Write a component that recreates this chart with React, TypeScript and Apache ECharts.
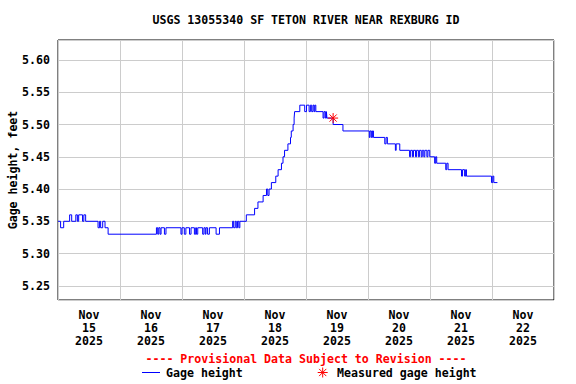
import React, { useEffect, useRef } from "react";
import * as echarts from "echarts";

// Hours since Nov 15 2025 00:00 at which the gage height changes (step data)
const stepHours = [
  0, 1.0, 2.2, 4.5, 5.3, 6.9, 7.5, 8.0, 9.5, 10.0, 10.7, 15.5, 16.1, 16.5, 17.3, 18.2, 19.4,
  38.1, 38.6, 39.0, 39.5, 39.9, 41.2, 41.8, 47.6, 48.0, 48.9, 49.5, 50.9, 51.5, 52.8, 53.3,
  53.6, 54.1, 56.0, 56.5, 57.0, 57.3, 57.9, 58.6, 61.2, 62.5, 67.6, 68.0, 68.6, 69.0, 69.5,
  70.0, 70.4, 72.9, 76.1, 77.4, 79.4, 80.7, 81.2, 81.7, 82.6, 84.3, 85.2, 86.5, 87.1, 87.7,
  89.0, 90.0, 90.3, 91.0, 91.4, 91.6, 93.6, 95.5, 96.2, 97.2, 97.7, 98.2, 98.7, 99.1, 99.4,
  99.8, 102.6, 103.0, 103.5, 103.9, 104.1, 106.5, 110.3, 120.5, 120.8, 121.3, 121.7, 122.1,
  126.5, 127.0, 127.5, 130.6, 130.9, 132.3, 136.1, 136.5, 137.2, 137.6, 138.4, 138.8, 139.5,
  139.9, 140.6, 141.0, 141.6, 142.0, 142.8, 143.2, 143.9, 145.8, 146.2, 146.6, 150.1, 150.5,
  151.0, 156.2, 156.6, 157.4, 157.8, 158.1, 167.8, 168.3, 168.7, 170.1,
];
const stepValues = [
  5.35, 5.34, 5.35, 5.36, 5.35, 5.36, 5.35, 5.36, 5.35, 5.36, 5.35, 5.34, 5.35, 5.34, 5.35, 5.34, 5.33,
  5.34, 5.33, 5.34, 5.33, 5.34, 5.33, 5.34, 5.33, 5.34, 5.33, 5.34, 5.33, 5.34, 5.33, 5.34,
  5.33, 5.34, 5.33, 5.34, 5.33, 5.34, 5.33, 5.34, 5.33, 5.34, 5.35, 5.34, 5.35, 5.34, 5.35,
  5.34, 5.35, 5.36, 5.37, 5.38, 5.39, 5.40, 5.39, 5.40, 5.41, 5.42, 5.43, 5.44, 5.45, 5.46,
  5.47, 5.48, 5.49, 5.50, 5.51, 5.52, 5.53, 5.52, 5.53, 5.52, 5.53, 5.52, 5.53, 5.52, 5.53,
  5.52, 5.51, 5.52, 5.51, 5.52, 5.51, 5.50, 5.49, 5.48, 5.49, 5.48, 5.49, 5.48,
  5.47, 5.48, 5.47, 5.46, 5.47, 5.46, 5.45, 5.46, 5.45, 5.46, 5.45, 5.46, 5.45,
  5.46, 5.45, 5.46, 5.45, 5.46, 5.45, 5.46, 5.45, 5.44, 5.45, 5.44, 5.43, 5.44,
  5.43, 5.42, 5.43, 5.42, 5.43, 5.42, 5.41, 5.42, 5.41, 5.41,
];

// Field measurement
const measuredHours = [106.5];
const measuredValues = [5.51];

// Axis labels
const dayLabels = [
  "Nov\n15\n2025", "Nov\n16\n2025", "Nov\n17\n2025", "Nov\n18\n2025",
  "Nov\n19\n2025", "Nov\n20\n2025", "Nov\n21\n2025", "Nov\n22\n2025",
];

const FONT = "DejaVu Sans Mono";
const FS = 11.6;

export default function App() {
  const ref = useRef<HTMLDivElement>(null);

  useEffect(() => {
    if (!ref.current) return;
    const chart = echarts.init(ref.current, null, { renderer: "svg" });

    const lineData = stepHours.map((h, i) => [h, stepValues[i]]);
    const starData = measuredHours.map((h, i) => [h, measuredValues[i]]);

    const legendY = 372.5;
    const sx = 322.7;
    const r = 5;
    const d = 3.6;

    chart.setOption({
      animation: false,
      backgroundColor: "#ffffff",
      grid: {
        left: 58,
        top: 40,
        right: 22,
        bottom: 84,
        show: true,
        borderColor: "#000000",
        borderWidth: 1,
        backgroundColor: "transparent",
        containLabel: false,
        outerBoundsMode: "none",
      },
      xAxis: [
        {
          type: "category",
          data: dayLabels,
          boundaryGap: true,
          axisLine: { show: false },
          axisTick: { show: false },
          splitLine: { show: true, interval: 0, lineStyle: { color: "#cccccc", width: 1 } },
          axisLabel: {
            interval: 0,
            color: "#000000",
            fontFamily: FONT,
            fontWeight: "bold",
            fontSize: FS,
            lineHeight: 13,
            margin: 8,
          },
        },
        {
          type: "value",
          min: 0,
          max: 192,
          show: false,
          splitLine: { show: false },
        },
      ],
      yAxis: {
        type: "value",
        min: 5.228,
        max: 5.631,
        splitNumber: 8,
        minInterval: 0.05,
        maxInterval: 0.05,
        axisLine: { show: false },
        axisTick: { show: false },
        splitLine: { show: true, lineStyle: { color: "#cccccc", width: 1 } },
        axisLabel: {
          color: "#000000",
          fontFamily: FONT,
          fontWeight: "bold",
          fontSize: FS,
          margin: 8,
          showMinLabel: false,
          showMaxLabel: false,
          formatter: (v: number) =>
            Math.abs(v * 20 - Math.round(v * 20)) > 1e-6 ? "" : v.toFixed(2),
        },
      },
      series: [
        {
          type: "line",
          xAxisIndex: 1,
          data: lineData,
          step: "end",
          showSymbol: false,
          lineStyle: { color: "#0000ff", width: 1 },
          itemStyle: { color: "#0000ff" },
          z: 3,
        },
        {
          type: "custom",
          xAxisIndex: 1,
          data: starData,
          z: 5,
          renderItem: (params: any, api: any) => {
            const p = api.coord([api.value(0), api.value(1)]);
            const style = { stroke: "#ff0000", lineWidth: 1 };
            return {
              type: "group",
              children: [
                { type: "line", shape: { x1: p[0] - r, y1: p[1], x2: p[0] + r, y2: p[1] }, style },
                { type: "line", shape: { x1: p[0], y1: p[1] - r, x2: p[0], y2: p[1] + r }, style },
                { type: "line", shape: { x1: p[0] - d, y1: p[1] - d, x2: p[0] + d, y2: p[1] + d }, style },
                { type: "line", shape: { x1: p[0] - d, y1: p[1] + d, x2: p[0] + d, y2: p[1] - d }, style },
              ],
            };
          },
        },
      ],
      graphic: [
        {
          type: "text",
          x: 306,
          y: 20,
          style: {
            text: "USGS 13055340 SF TETON RIVER NEAR REXBURG ID",
            fill: "#000000",
            font: `bold ${FS}px "${FONT}"`,
            textAlign: "center",
            textVerticalAlign: "middle",
          },
        },
        {
          type: "text",
          x: 13,
          y: 170,
          rotation: Math.PI / 2,
          style: {
            text: "Gage height, feet",
            fill: "#000000",
            font: `bold ${FS}px "${FONT}"`,
            textAlign: "center",
            textVerticalAlign: "middle",
          },
        },
        {
          type: "text",
          x: 306,
          y: 358.5,
          style: {
            text: "---- Provisional Data Subject to Revision ----",
            fill: "#ff0000",
            font: `bold ${FS}px "${FONT}"`,
            textAlign: "center",
            textVerticalAlign: "middle",
          },
        },
        {
          type: "line",
          shape: { x1: 142, y1: legendY, x2: 160, y2: legendY },
          style: { stroke: "#0000ff", lineWidth: 1 },
        },
        {
          type: "text",
          x: 166,
          y: legendY,
          style: {
            text: "Gage height",
            fill: "#000000",
            font: `bold ${FS}px "${FONT}"`,
            textAlign: "left",
            textVerticalAlign: "middle",
          },
        },
        {
          type: "group",
          children: [
            { type: "line", shape: { x1: sx - r, y1: legendY, x2: sx + r, y2: legendY }, style: { stroke: "#ff0000", lineWidth: 1 } },
            { type: "line", shape: { x1: sx, y1: legendY - r, x2: sx, y2: legendY + r }, style: { stroke: "#ff0000", lineWidth: 1 } },
            { type: "line", shape: { x1: sx - d, y1: legendY - d, x2: sx + d, y2: legendY + d }, style: { stroke: "#ff0000", lineWidth: 1 } },
            { type: "line", shape: { x1: sx - d, y1: legendY + d, x2: sx + d, y2: legendY - d }, style: { stroke: "#ff0000", lineWidth: 1 } },
          ],
        },
        {
          type: "text",
          x: 337,
          y: legendY,
          style: {
            text: "Measured gage height",
            fill: "#000000",
            font: `bold ${FS}px "${FONT}"`,
            textAlign: "left",
            textVerticalAlign: "middle",
          },
        },
      ],
    });

    return () => {
      chart.dispose();
    };
  }, []);

  return (
    <div
      ref={ref}
      style={{ position: "fixed", left: 0, top: 0, width: 576, height: 384, background: "#ffffff" }}
    />
  );
}
